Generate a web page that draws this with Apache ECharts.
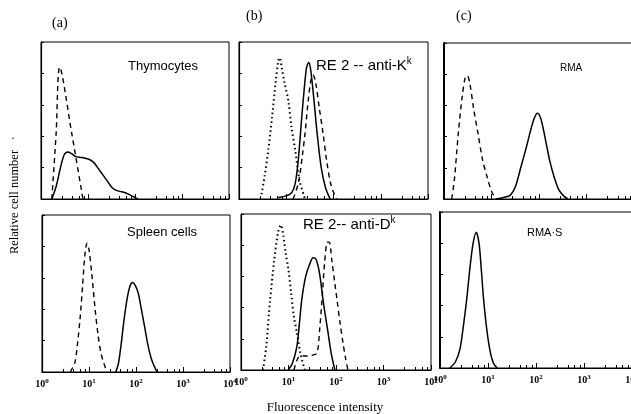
<!DOCTYPE html>
<html><head><meta charset="utf-8">
<script src="https://cdn.jsdelivr.net/npm/echarts@6/dist/echarts.min.js"></script>
<style>html,body{margin:0;padding:0;background:#fff}#c{width:631px;height:414px}</style>
</head><body><div id="c"></div>
<script>
// Tick labels (decades)
const xTicks = [1, 10, 100, 1000, 10000];
const panelTitles = ['(a)', '(b)', '(c)'];
const panelNames = ['Thymocytes', 'RE 2 -- anti-K', 'RMA', 'Spleen cells', 'RE 2-- anti-D', 'RMA·S'];

// (a) Thymocytes
const thymoDashed = [[1.7,0],[2.1,42],[2.5,84],[4.5,42],[7.8,0]];
const thymoSolid = [[1.7,0],[2.1,8],[2.6,20],[3.1,28],[3.7,30],[4.4,29],[5.5,27],[7,26.5],[8.7,26],[11,25],[13.5,23],[16,20],[20,16],[25,12],[31,8],[37,6],[45,5],[62,4],[80,2.5],[100,1],[115,0]];
// (a) Spleen cells
const spleenDashed = [[4,0],[5,6],[5.6,16],[6.5,35],[7.3,55],[8.2,75],[9.1,82],[10,78],[11.5,62],[13.5,40],[15.5,24],[18,12],[21,5],[24,0]];
const spleenSolid = [[37,0],[42,5],[48,17],[55,32],[65,47],[75,55],[85,57],[97,55],[112,50],[130,40],[150,30],[180,17],[220,7],[280,0]];
// (b) RE 2 anti-K^k
const kDotted = [[3.0,3],[3.5,15],[4.2,32],[5.0,52],[6.0,75],[6.8,88],[7.3,90],[8.0,84],[9.2,74],[11,63],[13,45],[15.5,31],[19,12],[25,0]];
const kSolid = [[6.8,1],[10,2],[13,4],[15.5,10],[18,25],[21,50],[24,70],[27,84],[30,87],[33,82],[38,65],[45,42],[55,20],[68,7],[85,0]];
const kDashed = [[14,0],[18,10],[22,28],[25,42],[29,62],[33,75],[37,79],[42,74],[50,58],[60,42],[72,24],[90,8],[117,0]];
// (b) RE 2 anti-D^k
const dDotted = [[2.9,0],[3.4,15],[4.1,45],[5,70],[6,88],[6.9,93],[7.8,86],[8.8,74],[9.8,66],[11.5,48],[13,34],[15,24],[18,10],[22,0]];
const dSolid = [[9.8,0],[12,4],[15,15],[17,30],[19,45],[23,60],[28,68],[33,72],[38,71],[45,62],[55,42],[68,24],[80,10],[95,0]];
const dDashed = [[13,0],[16,8],[20,9],[25,9],[32,9.5],[40,11],[45,25],[51,46],[58,70],[66,82],[72,82],[82,70],[95,55],[105,45],[122,30],[141,17],[160,7],[178,0]];
// (c) RMA
const rmaDashed = [[1.45,0],[1.65,12],[2.0,42],[2.4,65],[2.8,78],[3.1,79],[3.5,74],[4.2,58],[5.2,42],[6.5,25],[8.1,14],[10,5],[12.3,0]];
const rmaSolid = [[12.3,0],[18,1],[25,2.5],[32,8],[42,21],[55,34],[68,45],[80,52],[93,55],[108,52],[125,44],[141,36],[170,24],[209,14],[260,6],[330,2],[407,0]];
// (c) RMA-S
const rmasSolid = [[1.6,0],[2.1,4],[2.6,12],[3.1,28],[3.6,44],[4.2,64],[4.9,80],[5.7,87],[6.5,80],[7.3,62],[8.1,44],[9.5,24],[11.2,10],[13,3],[15.5,0]];

const grids = [
  {left:41, top:42, width:188, height:157},
  {left:239, top:42, width:189, height:157},
  {left:444, top:43, width:190, height:156},
  {left:42, top:215, width:188, height:157},
  {left:241, top:214, width:190, height:156},
  {left:440, top:212, width:192, height:156}
];

const chart = echarts.init(document.getElementById('c'));
const xAxes = grids.map((g, i) => ({
  type:'log', logBase:10, min:xTicks[0], max:xTicks[xTicks.length-1], gridIndex:i,
  axisLine:{show:true, lineStyle:{color:'#000', width:1.2}},
  axisTick:{show:true, inside:true, length:5, lineStyle:{color:'#000'}},
  minorTick:{show:true, splitNumber:5, length:3, lineStyle:{color:'#000'}},
  splitLine:{show:false},
  axisLabel:{show:i>=3, margin:6, color:'#000', hideOverlap:false,
    formatter: v => '{b|10}{s|' + Math.round(Math.log10(v)) + '}',
    rich:{b:{fontFamily:'Liberation Serif', fontSize:10, fontWeight:'bold', color:'#000'},
          s:{fontFamily:'Liberation Serif', fontSize:7, fontWeight:'bold', color:'#000', verticalAlign:'top', padding:[0,0,6,0]}}}
}));
const yAxes = grids.map((g, i) => ({
  type:'value', min:0, max:100, interval:20, gridIndex:i,
  axisLine:{show:true, lineStyle:{color:'#000', width: i===2||i===5 ? 2 : 1.2}},
  axisTick:{show:true, inside:true, length:3, lineStyle:{color:'#000'}},
  axisLabel:{show:false}, splitLine:{show:false}
}));

const solid = {color:'#000', width:1.5, type:'solid'};
const dashed = {color:'#000', width:1.4, type:[5,4]};
const dotted = {color:'#000', width:2, type:[1.5,3]};
function s(data, idx, style) {
  return {type:'line', data:data, xAxisIndex:idx, yAxisIndex:idx, smooth:0.3, showSymbol:false,
    lineStyle:style, silent:true, animation:false};
}
const series = [
  s(thymoDashed,0,dashed), s(thymoSolid,0,solid),
  s(kDotted,1,dotted), s(kSolid,1,solid), s(kDashed,1,dashed),
  s(rmaDashed,2,dashed), s(rmaSolid,2,solid),
  s(spleenDashed,3,dashed), s(spleenSolid,3,solid),
  s(dDotted,4,dotted), s(dSolid,4,solid), s(dDashed,4,dashed),
  s(rmasSolid,5,solid)
];

const serif = 'Liberation Serif';
const sansN = "'Liberation Sans Narrow', 'Liberation Sans', Arial";
const txt = (text, x, y, size, family, extra) => ({type:'text', left:x, top:y, style:Object.assign({text:text, fontSize:size, fontFamily:family, fill:'#000'}, extra||{})});
const supText = (main, sup, x, y) => ({type:'text', left:x, top:y, style:{text:'{m|' + main + '}{s|' + sup + '}', rich:{m:{fontSize:15, fontFamily:sansN, fill:'#000'}, s:{fontSize:10, fontFamily:sansN, fill:'#000', verticalAlign:'top', padding:[0,0,10,0]}}}});

const graphic = [
  txt(panelTitles[0], 52, 16, 14, serif),
  txt(panelTitles[1], 246, 9, 14, serif),
  txt(panelTitles[2], 456, 9, 14, serif),
  txt(panelNames[0], 128, 60, 13, sansN),
  txt(panelNames[3], 127, 226, 13, sansN),
  supText(panelNames[1], 'k', 316, 56),
  supText(panelNames[4], 'k', 303, 215),
  txt(panelNames[2], 560, 63, 10, sansN),
  txt(panelNames[5], 527, 227, 11, sansN),
  {type:'text', x:15, y:202, rotation:Math.PI/2, style:{text:'Relative cell number', fontSize:12.5, fontFamily:serif, fill:'#000', align:'center', verticalAlign:'middle'}},
  txt('·', 11, 133, 12, serif),
  {type:'text', x:325, y:408, style:{text:'Fluorescence intensity', fontSize:13, fontFamily:serif, fill:'#000', align:'center', verticalAlign:'middle'}}
];

chart.setOption({
  animation:false,
  grid: grids.map(g => Object.assign({show:true, borderColor:'#000', borderWidth:1, backgroundColor:'transparent', containLabel:false, outerBoundsMode:'none'}, g)),
  xAxis:xAxes, yAxis:yAxes, series:series, graphic:graphic
});
</script></body></html>
